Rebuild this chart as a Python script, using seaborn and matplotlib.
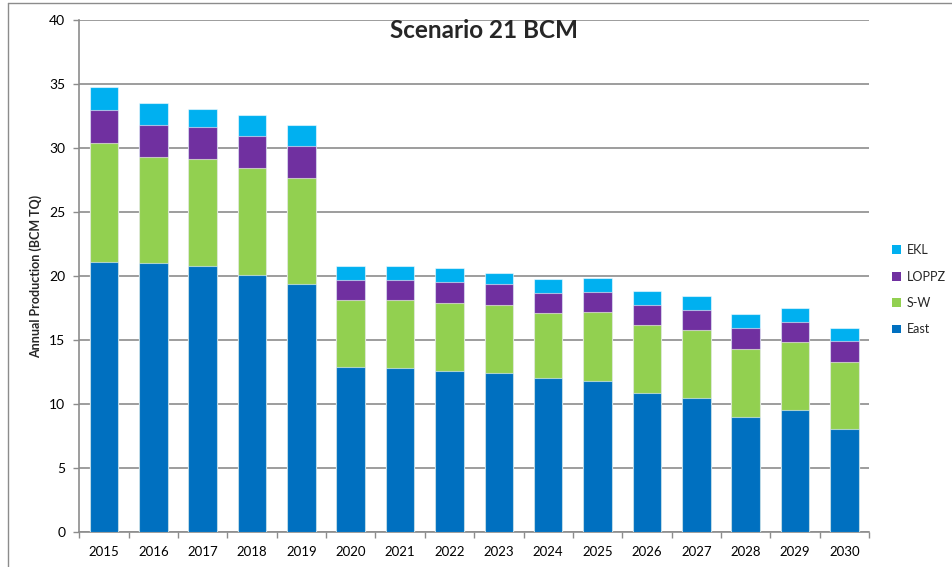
import matplotlib
matplotlib.use("Agg")
import matplotlib.pyplot as plt
from matplotlib.lines import Line2D
from matplotlib.patches import Patch
import numpy as np
import pandas as pd
import seaborn as sns

years = ["2015", "2016", "2017", "2018", "2019", "2020", "2021", "2022",
         "2023", "2024", "2025", "2026", "2027", "2028", "2029", "2030"]
east = [21.12, 20.99, 20.83, 20.08, 19.40, 12.94, 12.79, 12.63,
        12.42, 12.01, 11.85, 10.88, 10.49, 9.04, 9.55, 8.05]
sw = [9.25, 8.28, 8.34, 8.33, 8.26, 5.16, 5.31, 5.31,
      5.31, 5.10, 5.36, 5.29, 5.29, 5.31, 5.29, 5.28]
loppz = [2.63, 2.53, 2.47, 2.50, 2.47, 1.61, 1.59, 1.62,
         1.62, 1.61, 1.57, 1.59, 1.59, 1.61, 1.59, 1.62]
ekl = [1.74, 1.69, 1.38, 1.69, 1.69, 1.05, 1.07, 1.07,
       0.88, 1.07, 1.06, 1.09, 1.07, 1.07, 1.07, 1.04]

series = ["East", "S-W", "LOPPZ", "EKL"]
colors = {"East": "#0070C0", "S-W": "#92D050", "LOPPZ": "#7030A0", "EKL": "#00B0F0"}

df = pd.DataFrame({"year": years, "East": east, "S-W": sw, "LOPPZ": loppz, "EKL": ekl})
cum = df[series].cumsum(axis=1)

sns.set_theme(style="white")
plt.rcParams["font.family"] = ["Lato", "DejaVu Sans"]

fig = plt.figure(figsize=(9.52, 5.67), dpi=100)
ax = fig.add_axes([79.3 / 952, 1 - 532.3 / 567, (869 - 79.3) / 952, (532.3 - 20) / 567])

# draw cumulative totals from top down so segments stack
for s in reversed(series):
    sns.barplot(x=df["year"], y=cum[s], color=colors[s], ax=ax, width=0.58,
                edgecolor=(1, 1, 1, 0.55), linewidth=0.8, saturation=1, zorder=3)

ax.set_ylim(0, 40)
ax.set_xlim(-0.5, len(years) - 0.5)
ax.set_yticks(np.arange(0, 41, 5))
ax.yaxis.grid(True, color="#8c8c8c", linewidth=1.2, zorder=0)
ax.set_axisbelow(True)
for sp in ["top", "right"]:
    ax.spines[sp].set_visible(False)
for sp in ["left", "bottom"]:
    ax.spines[sp].set_color("#8c8c8c")
    ax.spines[sp].set_linewidth(1.2)

ax.tick_params(axis="y", which="major", length=4, width=1, color="#8c8c8c",
               labelsize=10, pad=6, labelcolor="#000000", left=True)
ax.tick_params(axis="x", which="major", length=0, labelsize=9.5, pad=10, labelcolor="#000000")
ax.set_xticks(np.arange(-0.5, len(years), 1), minor=True)
ax.tick_params(axis="x", which="minor", length=4, width=1, color="#8c8c8c", bottom=True)

ax.set_xlabel("")
ax.set_ylabel("Annual Production (BCM TQ)", fontsize=9, fontweight="bold", labelpad=5)

fig.text(484 / 952, 1 - 31 / 567, "Scenario 21 BCM", ha="center", va="center",
         fontsize=17.5, fontweight="bold")

handles = [Patch(facecolor=colors[s], edgecolor="none") for s in ["EKL", "LOPPZ", "S-W", "East"]]
fig.legend(handles, ["EKL", "LOPPZ", "S-W", "East"], loc="upper left",
           bbox_to_anchor=(881 / 952, 1 - 233 / 567), frameon=False, fontsize=9,
           handlelength=0.7, handleheight=0.7, handletextpad=0.45, labelspacing=1.15)

# outer chart frame
fig.add_artist(Line2D([7.5 / 952, 7.5 / 952], [0, 1 - 3 / 567], transform=fig.transFigure,
                      color="#8c8c8c", linewidth=1))
fig.add_artist(Line2D([7.5 / 952, 1], [1 - 3 / 567, 1 - 3 / 567], transform=fig.transFigure,
                      color="#8c8c8c", linewidth=1))

fig.savefig("out.png", dpi=100)
